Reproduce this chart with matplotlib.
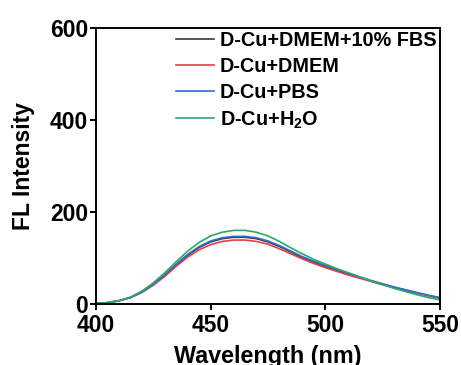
import numpy as np
import matplotlib
matplotlib.use("Agg")
import matplotlib.pyplot as plt

plt.rcParams['font.family'] = ['Liberation Sans', 'DejaVu Sans']
plt.rcParams['font.weight'] = 'bold'
plt.rcParams['mathtext.fontset'] = 'custom'
plt.rcParams['mathtext.rm'] = 'Liberation Sans:bold'
plt.rcParams['mathtext.bf'] = 'Liberation Sans:bold'
plt.rcParams['mathtext.default'] = 'bf'

# Emission spectra, 5 nm steps
wavelength = np.arange(400, 551, 5)

fbs = [1, 3, 7, 14, 26, 42, 62, 85, 106, 123, 135, 142, 145, 145, 142, 135, 125, 113, 101, 91, 82, 73, 65, 58, 50, 43, 36, 30, 24, 18, 13]
dmem = [1, 3, 7, 14, 25, 41, 60, 82, 102, 118, 129, 136, 139, 139, 136, 130, 120, 109, 98, 88, 79, 71, 63, 56, 49, 42, 36, 30, 24, 18, 13]
pbs = [1, 3, 7, 14, 26, 43, 64, 87, 108, 125, 137, 144, 147, 147, 144, 137, 127, 115, 103, 93, 84, 75, 67, 59, 51, 44, 37, 31, 25, 19, 14]
water = [1, 3, 7, 15, 28, 46, 68, 92, 115, 134, 148, 156, 160, 160, 156, 148, 136, 122, 109, 97, 87, 77, 68, 59, 50, 42, 34, 27, 20, 14, 9]

labels = ['D-Cu+DMEM+10% FBS', 'D-Cu+DMEM', 'D-Cu+PBS', 'D-Cu+H$_2$O']
colors = ['#3a3a3a', '#e0404a', '#2f6fd0', '#2ca86a']

fig = plt.figure(figsize=(4.61, 3.65), dpi=100)
ax = fig.add_axes([0.2082, 0.1671, 0.7462, 0.7562])

for ys, lab, col in zip([fbs, dmem, pbs, water], labels, colors):
    ax.plot(wavelength, ys, color=col, lw=1.2, label=lab)

ax.set_xlim(400, 550)
ax.set_ylim(0, 600)
ax.set_xticks([400, 450, 500, 550])
ax.set_yticks([0, 200, 400, 600])
ax.tick_params(direction='out', length=4, width=1.4, labelsize=16.5)
ax.tick_params(axis='x', pad=3)
ax.tick_params(axis='y', pad=1.5)
for s in ax.spines.values():
    s.set_linewidth(1.4)

ax.set_xlabel('Wavelength (nm)', fontsize=16.8, fontweight='bold', labelpad=6)
ax.set_ylabel('FL Intensity', fontsize=16.5, fontweight='bold', labelpad=11)

ax.legend(loc='upper right', bbox_to_anchor=(0.99, 0.99), frameon=False,
          handlelength=1.9, handletextpad=0.3, labelspacing=0.36,
          borderpad=0, borderaxespad=0,
          prop={'weight': 'bold', 'size': 14.3})

fig.savefig('out.png', dpi=100)
